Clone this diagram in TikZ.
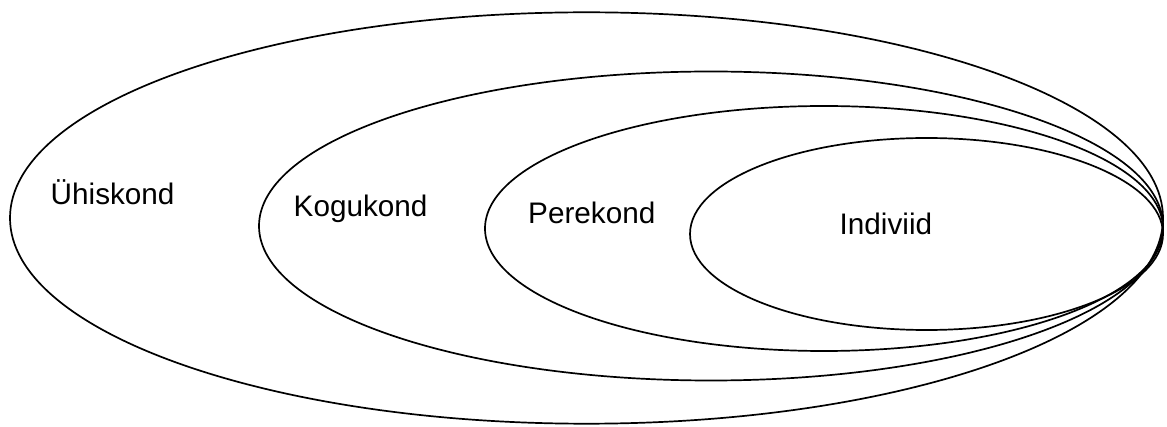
\documentclass[tikz,border=0pt]{standalone}
\usepackage{fontspec}
\setmainfont{Liberation Sans}
\begin{document}
\begin{tikzpicture}[x=1pt,y=-1pt,
  ring/.style={draw=black,line width=1.7pt},
  lbl/.style={anchor=base west,inner sep=0pt,font=\fontsize{29.7}{31}\selectfont}]
\useasboundingbox (0,0) rectangle (1167,427);
\draw[ring] (586.5,218) ellipse [x radius=576.5, y radius=205.7];
\draw[ring] (711,226) ellipse [x radius=452, y radius=154.5];
\draw[ring] (824,228.5) ellipse [x radius=339, y radius=122.5];
\draw[ring] (926.5,234) ellipse [x radius=236.5, y radius=96];
\node[lbl] (uh) at (50.5,205) {Ühiskond};
\node[lbl] (ko) at (293.5,216.7) {Kogukond};
\node[lbl] (pe) at (528,223.3) {Perekond};
\node[lbl] (in) at (839.5,235) {Indiviid};
\end{tikzpicture}
\end{document}
